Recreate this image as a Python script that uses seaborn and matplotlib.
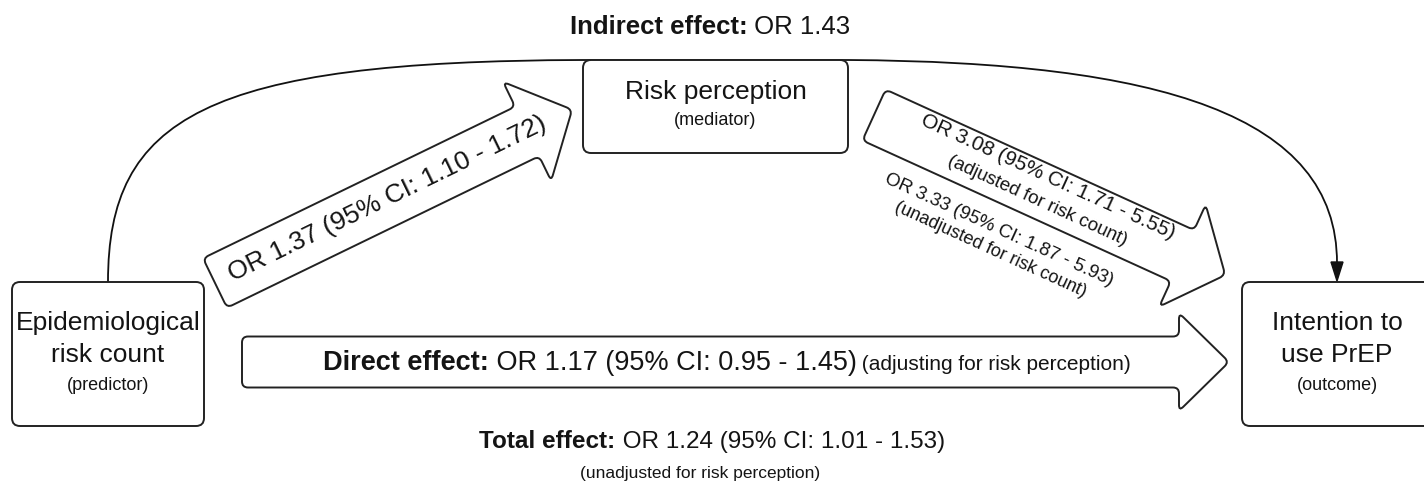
import numpy as np
import matplotlib
matplotlib.use('Agg')
import matplotlib.pyplot as plt
import seaborn as sns
from matplotlib.path import Path
from matplotlib.patches import PathPatch, FancyBboxPatch, Polygon

# labels / values of the mediation diagram
node_titles = ['Epidemiological\nrisk count', 'Risk perception', 'Intention to\nuse PrEP']
node_roles = ['(predictor)', '(mediator)', '(outcome)']
path_a = 'OR 1.37 (95% CI: 1.10 - 1.72)'
path_b = ['OR 3.08 (95% CI: 1.71 - 5.55)', '(adjusted for risk count)',
          'OR 3.33 (95% CI: 1.87 - 5.93)', '(unadjusted for risk count)']
indirect = ['Indirect effect:', ' OR 1.43']
direct = ['Direct effect:', ' OR 1.17 (95% CI: 0.95 - 1.45)', ' (adjusting for risk perception)']
total = ['Total effect:', ' OR 1.24 (95% CI: 1.01 - 1.53)']
total_note = '(unadjusted for risk perception)'

sns.set_theme(style='white')
plt.rcParams['font.family'] = ['Liberation Sans', 'DejaVu Sans']

INK = '#141414'
EDGE = '#222222'

fig = plt.figure(figsize=(14.24, 4.86), dpi=100)
ax = fig.add_axes([0, 0, 1, 1])
ax.set_xlim(0, 1424)
ax.set_ylim(486, 0)
ax.axis('off')


def rounded_path(points, r):
    verts, codes = [], []
    n = len(points)
    for i in range(n):
        p0 = np.array(points[i - 1], float)
        p1 = np.array(points[i], float)
        p2 = np.array(points[(i + 1) % n], float)
        l1 = np.linalg.norm(p0 - p1)
        l2 = np.linalg.norm(p2 - p1)
        rr = min(r, l1 / 2, l2 / 2)
        a = p1 + (p0 - p1) / l1 * rr
        b = p1 + (p2 - p1) / l2 * rr
        verts.append(a)
        codes.append(Path.MOVETO if i == 0 else Path.LINETO)
        verts += [p1, b]
        codes += [Path.CURVE3, Path.CURVE3]
    verts.append(verts[0])
    codes.append(Path.CLOSEPOLY)
    return Path(verts, codes)


def block_arrow(tail, angle, length, body_half, head_half, head_len, r=6):
    a = np.radians(angle)
    d = np.array([np.cos(a), -np.sin(a)])
    nrm = np.array([np.sin(a), np.cos(a)])
    tail = np.array(tail, float)
    hb = length - head_len
    local = [(0, -body_half), (hb, -body_half), (hb, -head_half), (length, 0),
             (hb, head_half), (hb, body_half), (0, body_half)]
    pts = [tail + u * d + v * nrm for u, v in local]
    ax.add_patch(PathPatch(rounded_path(pts, r), fc='white', ec=EDGE, lw=1.4, zorder=3))
    return tail, d, nrm, angle


def arrow_text(arr, along, perp, s, size):
    tail, d, nrm, angle = arr
    x, y = tail + along * d + perp * nrm
    ax.text(x, y, s, fontsize=size, color=INK, rotation=angle, rotation_mode='anchor',
            ha='center', va='center', zorder=4)


def mixed_line(xc, ybase, parts):
    # parts: (text, weight, size); centred as one line
    r = fig.canvas.get_renderer()
    objs = []
    for s, w, size in parts:
        t = ax.text(0, ybase, s, fontsize=size, fontweight=w, color=INK,
                    ha='left', va='baseline', zorder=4)
        objs.append(t)
    widths = [t.get_window_extent(r).width for t in objs]
    x = xc - sum(widths) / 2
    for t, w in zip(objs, widths):
        t.set_x(x)
        x += w


# indirect path curve (behind the boxes)
curve = Path([(108, 282), (108, 118), (205, 61), (583, 60), (848, 60),
              (1160, 62), (1337, 115), (1337, 263)],
             [Path.MOVETO, Path.CURVE4, Path.CURVE4, Path.CURVE4, Path.LINETO,
              Path.CURVE4, Path.CURVE4, Path.CURVE4])
ax.add_patch(PathPatch(curve, fc='none', ec='#111111', lw=1.3, zorder=1))
ax.add_patch(Polygon([(1331, 262), (1343, 262), (1337, 281)], closed=True,
                     fc='#111111', ec='#111111', lw=1, zorder=1))

# nodes
boxes = [(12, 282, 192, 144), (583, 60, 265, 93), (1242, 282, 190, 144)]
for (x0, y0, w, h), title, role in zip(boxes, node_titles, node_roles):
    ax.add_patch(FancyBboxPatch((x0, y0), w, h, boxstyle='round,pad=0,rounding_size=8',
                                fc='white', ec=EDGE, lw=1.4, zorder=2))
    xc = x0 + w / 2
    lines = title.split('\n')
    if len(lines) == 2:
        ax.text(xc, 323, lines[0], fontsize=19, color=INK, ha='center', va='center', zorder=4)
        ax.text(xc, 355, lines[1], fontsize=19, color=INK, ha='center', va='center', zorder=4)
        ax.text(xc, 385, role, fontsize=13, color=INK, ha='center', va='center', zorder=4)
    else:
        ax.text(xc, 92, title, fontsize=19, color=INK, ha='center', va='center', zorder=4)
        ax.text(xc, 120, role, fontsize=13, color=INK, ha='center', va='center', zorder=4)

# path a: predictor -> mediator
a1 = block_arrow((215, 283), 25.9, 397, 27.5, 55, 50)
arrow_text(a1, 192, -1, path_a, 19)

# path b: mediator -> outcome
a2 = block_arrow((874, 115), -24.5, 386, 28, 56, 47)
arrow_text(a2, 184, -16, path_b[0], 15)
arrow_text(a2, 184, 10, path_b[1], 13.5)
arrow_text(a2, 162, 53, path_b[2], 13.5)
arrow_text(a2, 162, 74, path_b[3], 13)

# direct path
a3 = block_arrow((242, 362), 0, 987, 25.5, 49, 50)
mixed_line(727, 370, [(direct[0], 'bold', 19.5), (direct[1], 'normal', 19.5),
                      (direct[2], 'normal', 15)])

# effect summaries
mixed_line(710, 34, [(indirect[0], 'bold', 18.5), (indirect[1], 'normal', 18.5)])
mixed_line(712, 448, [(total[0], 'bold', 17.5), (total[1], 'normal', 17.5)])
ax.text(700, 473, total_note, fontsize=12.5, color=INK, ha='center', va='center', zorder=4)

fig.savefig('out.png', dpi=100, facecolor='white')
plt.close(fig)
